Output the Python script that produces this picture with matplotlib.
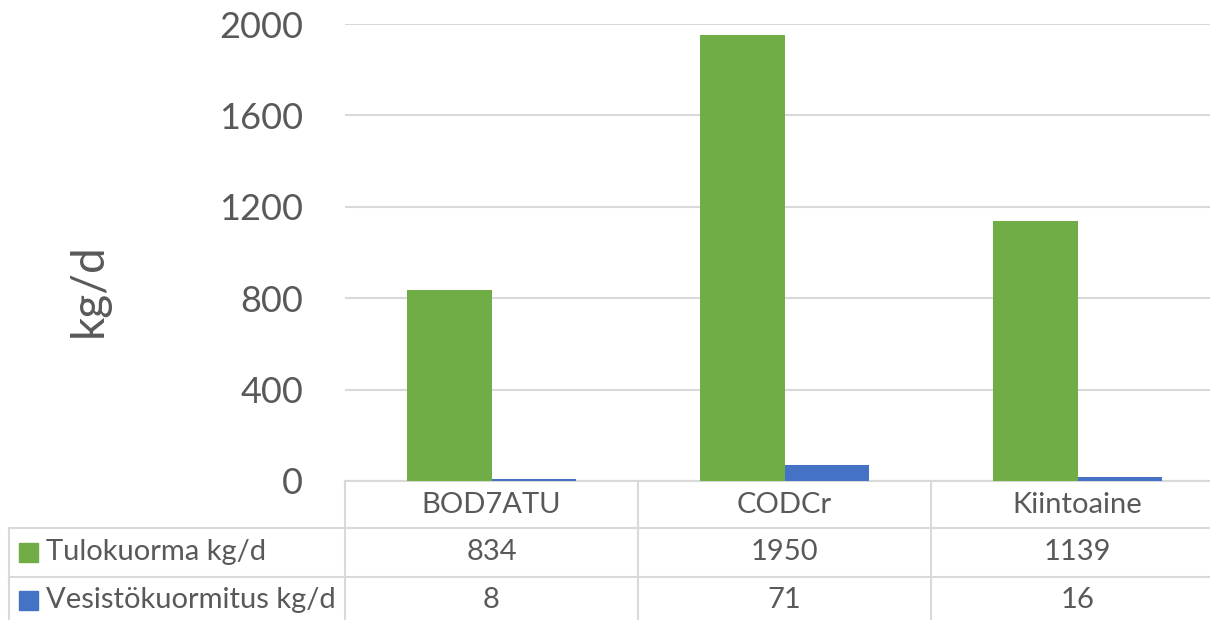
import matplotlib
matplotlib.use("Agg")
import matplotlib.pyplot as plt
from matplotlib.transforms import blended_transform_factory
from matplotlib.lines import Line2D
from matplotlib.patches import Rectangle
import numpy as np

categories = ["BOD7ATU", "CODCr", "Kiintoaine"]
series_names = ["Tulokuorma kg/d", "Vesistökuormitus kg/d"]
tulokuorma = [834, 1950, 1139]
vesisto = [8, 71, 16]
yticks = [0, 400, 800, 1200, 1600, 2000]
ylabel = "kg/d"
colors = ["#70AD47", "#4472C4"]

W, H = 1210, 620
plt.rcParams['font.family'] = ['Lato', 'DejaVu Sans']
fig = plt.figure(figsize=(W / 100, H / 100), dpi=100)

def fx(px):
    return px / W

def fy(py):
    return 1 - py / H

ax = fig.add_axes([fx(345), fy(481), fx(1224) - fx(345), fy(24) - fy(481)])
x = np.arange(len(categories))
bw = 0.29
ax.bar(x - bw / 2, tulokuorma, bw, color=colors[0], zorder=3)
ax.bar(x + bw / 2, vesisto, bw, color=colors[1], zorder=3)
ax.set_xlim(-0.5, len(categories) - 0.5)
ax.set_ylim(0, 2000)
ax.set_yticks(yticks)
ax.set_yticklabels([str(v) for v in yticks], fontsize=26, color="#595959")
ax.tick_params(axis='y', length=0, pad=30)
ax.set_xticks([])
ax.grid(axis='y', color='#d9d9d9', linewidth=1.5, zorder=0)
for s in ['top', 'right', 'left']:
    ax.spines[s].set_visible(False)
ax.spines['bottom'].set_color('#d9d9d9')
ax.spines['bottom'].set_linewidth(1.5)
fig.text(fx(89), fy(290), ylabel, rotation=90, ha='center', va='center',
         fontsize=33, color='#595959')

# data table
tr = blended_transform_factory(ax.transData, fig.transFigure)
lc = '#d9d9d9'
lw = 1.5
# vertical lines at category boundaries
for b in np.arange(len(categories) + 1) - 0.5:
    fig.add_artist(Line2D([b, b], [fy(481), fy(640)], transform=tr, color=lc, lw=lw))
# left border for series rows
fig.add_artist(Line2D([fx(9), fx(9)], [fy(528), fy(640)], transform=fig.transFigure, color=lc, lw=lw))
for yy in [528, 577]:
    fig.add_artist(Line2D([fx(9), fx(1215)], [fy(yy), fy(yy)], transform=fig.transFigure, color=lc, lw=lw))

tc = '#595959'
fs = 21
for i, c in enumerate(categories):
    fig.text(i, fy(505), c, transform=tr, ha='center', va='center', fontsize=fs, color=tc)
rows = [tulokuorma, vesisto]
row_center = [552, 600]
for r, (vals, name, col) in enumerate(zip(rows, series_names, colors)):
    yc = row_center[r]
    fig.add_artist(Rectangle((fx(19), fy(yc + 9.5)), fx(19), 19 / H,
                             transform=fig.transFigure, color=col))
    fig.text(fx(46), fy(yc), name, ha='left', va='center', fontsize=fs, color=tc)
    for i, v in enumerate(vals):
        fig.text(i, fy(yc), str(v), transform=tr, ha='center', va='center', fontsize=fs, color=tc)

fig.savefig("out.png", dpi=100)
